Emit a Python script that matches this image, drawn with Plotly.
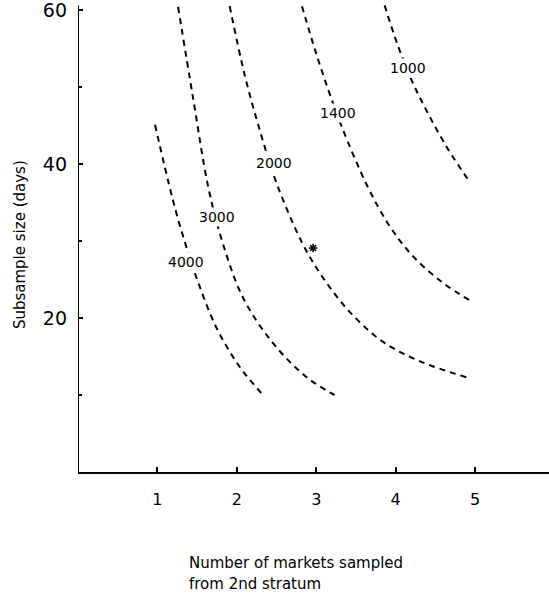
import plotly.graph_objects as go

# Contour curves: (x = markets sampled, y = subsample size in days)
curve_labels = ["4000", "3000", "2000", "1400", "1000"]
x_4000 = [0.97, 1.19, 1.35, 1.51, 1.75, 2.04, 2.33]
y_4000 = [45.1, 35.5, 29.7, 24.7, 18.6, 13.6, 10.0]
x_3000 = [1.26, 1.45, 1.64, 1.82, 2.08, 2.45, 2.88, 3.23]
y_3000 = [60.4, 48.5, 37.0, 29.8, 22.6, 16.8, 12.3, 10.0]
x_2000 = [1.91, 2.10, 2.30, 2.50, 2.83, 3.08, 3.42, 3.84, 4.30, 4.89]
y_2000 = [60.5, 51.5, 44.0, 37.5, 29.6, 25.3, 20.8, 16.9, 14.4, 12.3]
x_1400 = [2.82, 3.00, 3.19, 3.33, 3.64, 3.92, 4.21, 4.59, 4.93]
y_1400 = [60.5, 54.3, 48.5, 44.6, 37.2, 32.0, 28.1, 24.6, 22.3]
x_1000 = [3.86, 4.02, 4.20, 4.42, 4.66, 4.93]
y_1000 = [60.6, 55.6, 50.9, 46.3, 41.9, 37.7]

# Label positions for each contour
label_x = [1.36, 1.75, 2.47, 3.27, 4.15]
label_y = [27.3, 33.1, 40.1, 46.6, 52.5]

# Starred point
star_x = [2.96]
star_y = [29.1]

x_ticks = [1, 2, 3, 4, 5]
y_ticks = [20, 40, 60]
y_minor_ticks = [10, 30, 50]

curves_x = [x_4000, x_3000, x_2000, x_1400, x_1000]
curves_y = [y_4000, y_3000, y_2000, y_1400, y_1000]

fig = go.Figure()
for cx, cy in zip(curves_x, curves_y):
    fig.add_trace(go.Scatter(x=cx, y=cy, mode="lines",
                             line=dict(color="black", width=2, dash="6px,5px", shape="spline", smoothing=1.0),
                             hoverinfo="skip", showlegend=False))

fig.add_trace(go.Scatter(x=star_x, y=star_y, mode="markers",
                         marker=dict(symbol="asterisk-open", size=7, color="black",
                                     line=dict(color="black", width=1.5)),
                         showlegend=False))

for t, lx, ly in zip(curve_labels, label_x, label_y):
    fig.add_annotation(x=lx, y=ly, text=t, showarrow=False,
                       font=dict(family="DejaVu Sans", size=14, color="black"),
                       bgcolor="white", borderpad=1)

# Left axis line
fig.add_shape(type="line", x0=0, x1=0, y0=0, y1=60.6, xref="x", yref="y",
              line=dict(color="black", width=2))

fig.add_annotation(xref="paper", yref="paper", x=0.231, y=(472 - 563) / 472, xanchor="left", yanchor="middle",
                   text="Number of markets sampled", showarrow=False,
                   font=dict(family="DejaVu Sans", size=15, color="black"))
fig.add_annotation(xref="paper", yref="paper", x=0.231, y=(472 - 584) / 472, xanchor="left", yanchor="middle",
                   text="from 2nd stratum", showarrow=False,
                   font=dict(family="DejaVu Sans", size=15, color="black"))
fig.add_annotation(xref="paper", yref="paper", x=-0.123, y=(472 - 245) / 472, xanchor="center", yanchor="middle",
                   text="Subsample size (days)", textangle=-90, showarrow=False,
                   font=dict(family="DejaVu Sans", size=15, color="black"))

fig.update_xaxes(range=[0, 5.93], tickvals=x_ticks, ticktext=[str(v) for v in x_ticks],
                 ticks="inside", ticklen=5, tickcolor="black", tickwidth=1.5,
                 showline=True, linecolor="black", linewidth=2,
                 showgrid=False, zeroline=False, ticklabelstandoff=12,
                 tickfont=dict(family="DejaVu Sans", size=16, color="black"))
fig.update_yaxes(range=[0, 61.3], tickvals=y_ticks, ticktext=[str(v) for v in y_ticks],
                 ticks="inside", ticklen=5, tickcolor="black", tickwidth=1.5,
                 minor=dict(ticks="inside", tickvals=y_minor_ticks, ticklen=4, tickcolor="black"),
                 showline=False, showgrid=False, zeroline=False, ticklabelstandoff=10,
                 ticklabeloverflow="allow",
                 tickfont=dict(family="DejaVu Sans", size=19, color="black"))

fig.update_layout(width=549, height=598, margin=dict(l=78, r=0, t=0, b=126),
                  plot_bgcolor="white", paper_bgcolor="white")

fig.write_html("out.html")
